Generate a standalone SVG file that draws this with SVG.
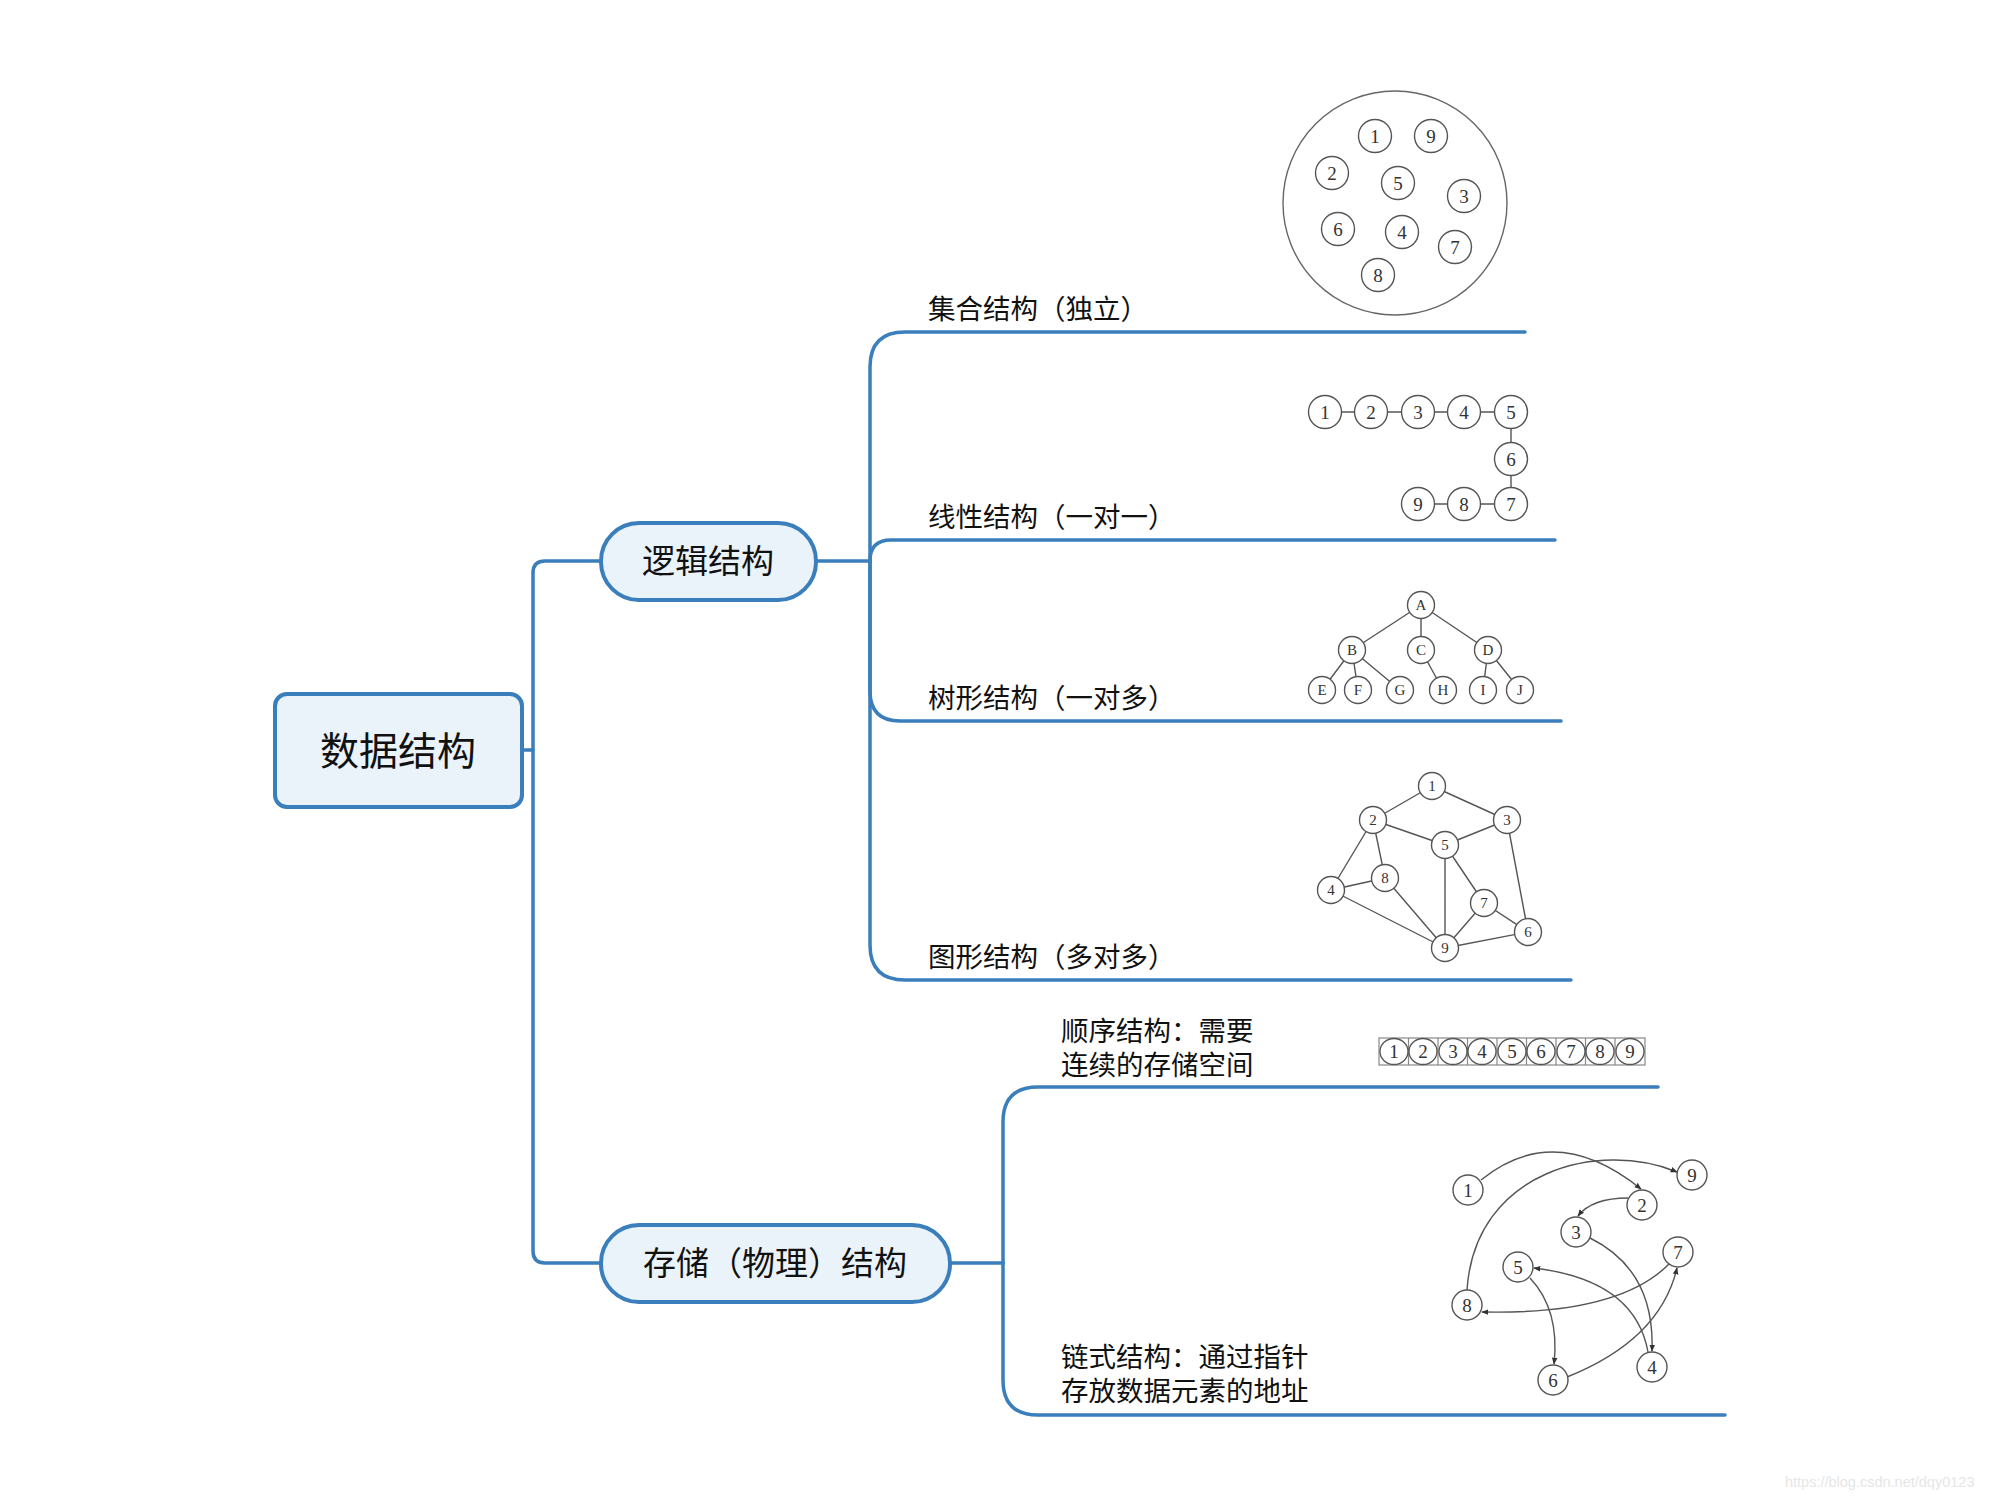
<svg xmlns="http://www.w3.org/2000/svg" width="2000" height="1500" viewBox="0 0 2000 1500">
<style>
.conn{fill:none;stroke:#3a7ebb;stroke-width:3.5;stroke-linecap:round}
.node{fill:#ebf3fa;stroke:#3a7ebb;stroke-width:4}
.t{font-family:"Noto Sans CJK SC","Noto Sans",sans-serif;fill:#111}
.lbl{font-size:27.5px}
.c{fill:#fff;stroke:#555;stroke-width:1.4}
.e{stroke:#555;stroke-width:1.4;fill:none}
.d{font-family:"Liberation Serif",serif;font-size:19px;fill:#333;text-anchor:middle}
.L{font-family:"Liberation Serif",serif;font-size:15px;fill:#333;text-anchor:middle}
</style>
<defs>
<marker id="ah" viewBox="0 0 10 10" refX="9" refY="5" markerWidth="7" markerHeight="7" orient="auto" markerUnits="userSpaceOnUse"><path d="M0,1 L10,5 L0,9 z" fill="#333"/></marker>
</defs>
<rect width="2000" height="1500" fill="#fff"/>
<g id="connectors">
<path class="conn" d="M522,750 H533"/>
<path class="conn" d="M600,561 H545 Q533,561 533,573 V1251 Q533,1263 545,1263 H600"/>
<path class="conn" d="M816,561 H870"/>
<path class="conn" d="M870,561 V367 Q870,332 905,332 H1525"/>
<path class="conn" d="M870,561 Q870,540 891,540 H1555"/>
<path class="conn" d="M870,561 V691 Q870,721 900,721 H1561"/>
<path class="conn" d="M870,561 V945 Q870,980 905,980 H1571"/>
<path class="conn" d="M950,1263 H1003"/>
<path class="conn" d="M1003,1263 V1122 Q1003,1087 1038,1087 H1658"/>
<path class="conn" d="M1003,1263 V1380 Q1003,1415 1038,1415 H1725"/>
</g>
<g id="root">
<rect class="node" x="275" y="694" width="247" height="113" rx="12"/>
<text class="t" x="398" y="765" font-size="39" text-anchor="middle">数据结构</text>
</g>
<g id="logic">
<rect class="node" x="601" y="523" width="215" height="77" rx="38"/>
<text class="t" x="708" y="573" font-size="33" text-anchor="middle">逻辑结构</text>
</g>
<g id="storage">
<rect class="node" x="601" y="1225" width="349" height="77" rx="38"/>
<text class="t" x="775" y="1275" font-size="33" text-anchor="middle">存储（物理）结构</text>
</g>
<g id="set">
<text class="t lbl" x="928" y="319">集合结构（独立）</text>
<circle cx="1395" cy="203" r="112" fill="none" stroke="#666" stroke-width="1.4"/>
<g>
<circle class="c" cx="1375" cy="136" r="16.5"/><text class="d" x="1375" y="143">1</text>
<circle class="c" cx="1431" cy="136" r="16.5"/><text class="d" x="1431" y="143">9</text>
<circle class="c" cx="1332" cy="173" r="16.5"/><text class="d" x="1332" y="180">2</text>
<circle class="c" cx="1398" cy="183" r="16.5"/><text class="d" x="1398" y="190">5</text>
<circle class="c" cx="1464" cy="196" r="16.5"/><text class="d" x="1464" y="203">3</text>
<circle class="c" cx="1338" cy="229" r="16.5"/><text class="d" x="1338" y="236">6</text>
<circle class="c" cx="1402" cy="232" r="16.5"/><text class="d" x="1402" y="239">4</text>
<circle class="c" cx="1455" cy="247" r="16.5"/><text class="d" x="1455" y="254">7</text>
<circle class="c" cx="1378" cy="275" r="16.5"/><text class="d" x="1378" y="282">8</text>
</g>
</g>
<g id="linear">
<text class="t lbl" x="928" y="527">线性结构（一对一）</text>
<path class="e" d="M1341,412 H1355 M1388,412 H1401 M1434,412 H1448 M1481,412 H1495 M1511,429 V442 M1511,476 V488 M1495,504 H1481 M1448,504 H1434"/>
<circle class="c" cx="1325" cy="412" r="16.5"/><text class="d" x="1325" y="419">1</text>
<circle class="c" cx="1371" cy="412" r="16.5"/><text class="d" x="1371" y="419">2</text>
<circle class="c" cx="1418" cy="412" r="16.5"/><text class="d" x="1418" y="419">3</text>
<circle class="c" cx="1464" cy="412" r="16.5"/><text class="d" x="1464" y="419">4</text>
<circle class="c" cx="1511" cy="412" r="16.5"/><text class="d" x="1511" y="419">5</text>
<circle class="c" cx="1511" cy="459" r="16.5"/><text class="d" x="1511" y="466">6</text>
<circle class="c" cx="1511" cy="504" r="16.5"/><text class="d" x="1511" y="511">7</text>
<circle class="c" cx="1464" cy="504" r="16.5"/><text class="d" x="1464" y="511">8</text>
<circle class="c" cx="1418" cy="504" r="16.5"/><text class="d" x="1418" y="511">9</text>
</g>
<g id="tree">
<text class="t lbl" x="928" y="708">树形结构（一对多）</text>
<path class="e" d="M1421,605 L1352,650 M1421,605 L1421,650 M1421,605 L1488,650 M1352,650 L1322,690 M1352,650 L1358,690 M1352,650 L1400,690 M1421,650 L1443,690 M1488,650 L1483,690 M1488,650 L1520,690"/>
<circle class="c" cx="1421" cy="605" r="13.5"/><text class="L" x="1421" y="610">A</text>
<circle class="c" cx="1352" cy="650" r="13.5"/><text class="L" x="1352" y="655">B</text>
<circle class="c" cx="1421" cy="650" r="13.5"/><text class="L" x="1421" y="655">C</text>
<circle class="c" cx="1488" cy="650" r="13.5"/><text class="L" x="1488" y="655">D</text>
<circle class="c" cx="1322" cy="690" r="13.5"/><text class="L" x="1322" y="695">E</text>
<circle class="c" cx="1358" cy="690" r="13.5"/><text class="L" x="1358" y="695">F</text>
<circle class="c" cx="1400" cy="690" r="13.5"/><text class="L" x="1400" y="695">G</text>
<circle class="c" cx="1443" cy="690" r="13.5"/><text class="L" x="1443" y="695">H</text>
<circle class="c" cx="1483" cy="690" r="13.5"/><text class="L" x="1483" y="695">I</text>
<circle class="c" cx="1520" cy="690" r="13.5"/><text class="L" x="1520" y="695">J</text>
</g>
<g id="graph">
<text class="t lbl" x="928" y="967">图形结构（多对多）</text>
<path class="e" d="M1432,786 L1373,820 M1432,786 L1507,820 M1373,820 L1445,845 M1507,820 L1445,845 M1373,820 L1331,890 M1373,820 L1385,878 M1331,890 L1385,878 M1331,890 L1445,948 M1385,878 L1445,948 M1445,845 L1445,948 M1445,845 L1484,903 M1484,903 L1445,948 M1484,903 L1528,932 M1507,820 L1528,932 M1445,948 L1528,932"/>
<circle class="c" cx="1432" cy="786" r="13.5"/><text class="L" x="1432" y="791">1</text>
<circle class="c" cx="1373" cy="820" r="13.5"/><text class="L" x="1373" y="825">2</text>
<circle class="c" cx="1507" cy="820" r="13.5"/><text class="L" x="1507" y="825">3</text>
<circle class="c" cx="1445" cy="845" r="13.5"/><text class="L" x="1445" y="850">5</text>
<circle class="c" cx="1385" cy="878" r="13.5"/><text class="L" x="1385" y="883">8</text>
<circle class="c" cx="1331" cy="890" r="13.5"/><text class="L" x="1331" y="895">4</text>
<circle class="c" cx="1484" cy="903" r="13.5"/><text class="L" x="1484" y="908">7</text>
<circle class="c" cx="1528" cy="932" r="13.5"/><text class="L" x="1528" y="937">6</text>
<circle class="c" cx="1445" cy="948" r="13.5"/><text class="L" x="1445" y="953">9</text>
</g>
<g id="sequential">
<text class="t lbl" x="1061" y="1041">顺序结构：需要<tspan x="1061" dy="34">连续的存储空间</tspan></text>
<rect x="1379" y="1038" width="266" height="27" fill="none" stroke="#888" stroke-width="1.2"/>
<path d="M1408.5,1038 V1065 M1438,1038 V1065 M1467.5,1038 V1065 M1497,1038 V1065 M1526.5,1038 V1065 M1556,1038 V1065 M1585.5,1038 V1065 M1615,1038 V1065" stroke="#888" stroke-width="1.2"/>
<g fill="none" stroke="#555" stroke-width="1.3">
<ellipse cx="1394" cy="1051.5" rx="14" ry="13"/><ellipse cx="1423" cy="1051.5" rx="14" ry="13"/><ellipse cx="1453" cy="1051.5" rx="14" ry="13"/><ellipse cx="1482" cy="1051.5" rx="14" ry="13"/><ellipse cx="1512" cy="1051.5" rx="14" ry="13"/><ellipse cx="1541" cy="1051.5" rx="14" ry="13"/><ellipse cx="1571" cy="1051.5" rx="14" ry="13"/><ellipse cx="1600" cy="1051.5" rx="14" ry="13"/><ellipse cx="1630" cy="1051.5" rx="14" ry="13"/>
</g>
<text class="d" x="1394" y="1058">1</text><text class="d" x="1423" y="1058">2</text><text class="d" x="1453" y="1058">3</text><text class="d" x="1482" y="1058">4</text><text class="d" x="1512" y="1058">5</text><text class="d" x="1541" y="1058">6</text><text class="d" x="1571" y="1058">7</text><text class="d" x="1600" y="1058">8</text><text class="d" x="1630" y="1058">9</text>
</g>
<g id="linked">
<text class="t lbl" x="1061" y="1367">链式结构：通过指针<tspan x="1061" dy="34">存放数据元素的地址</tspan></text>
<g class="e" stroke="#444" stroke-width="1.3" marker-end="url(#ah)">
<path d="M1481,1180 Q1555,1120 1641,1189"/>
<path d="M1467,1290 C1475,1170 1600,1140 1677,1172"/>
<path d="M1628,1198 Q1592,1198 1578,1216"/>
<path d="M1590,1238 Q1655,1270 1652,1351"/>
<path d="M1670,1263 Q1620,1315 1482,1312"/>
<path d="M1648,1352 Q1635,1280 1534,1268"/>
<path d="M1530,1278 Q1560,1310 1554,1364"/>
<path d="M1567,1377 Q1660,1340 1677,1268"/>
</g>
<circle class="c" cx="1468" cy="1190" r="15"/><text class="d" x="1468" y="1197">1</text>
<circle class="c" cx="1692" cy="1175" r="15"/><text class="d" x="1692" y="1182">9</text>
<circle class="c" cx="1642" cy="1205" r="15"/><text class="d" x="1642" y="1212">2</text>
<circle class="c" cx="1576" cy="1232" r="15"/><text class="d" x="1576" y="1239">3</text>
<circle class="c" cx="1678" cy="1252" r="15"/><text class="d" x="1678" y="1259">7</text>
<circle class="c" cx="1518" cy="1267" r="15"/><text class="d" x="1518" y="1274">5</text>
<circle class="c" cx="1467" cy="1305" r="15"/><text class="d" x="1467" y="1312">8</text>
<circle class="c" cx="1652" cy="1367" r="15"/><text class="d" x="1652" y="1374">4</text>
<circle class="c" cx="1553" cy="1380" r="15"/><text class="d" x="1553" y="1387">6</text>
</g>
<text x="1785" y="1487" font-family="Liberation Sans,Arial,sans-serif" font-size="14.5" fill="#e6e6e6">https://blog.csdn.net/dqy0123</text>
</svg>
